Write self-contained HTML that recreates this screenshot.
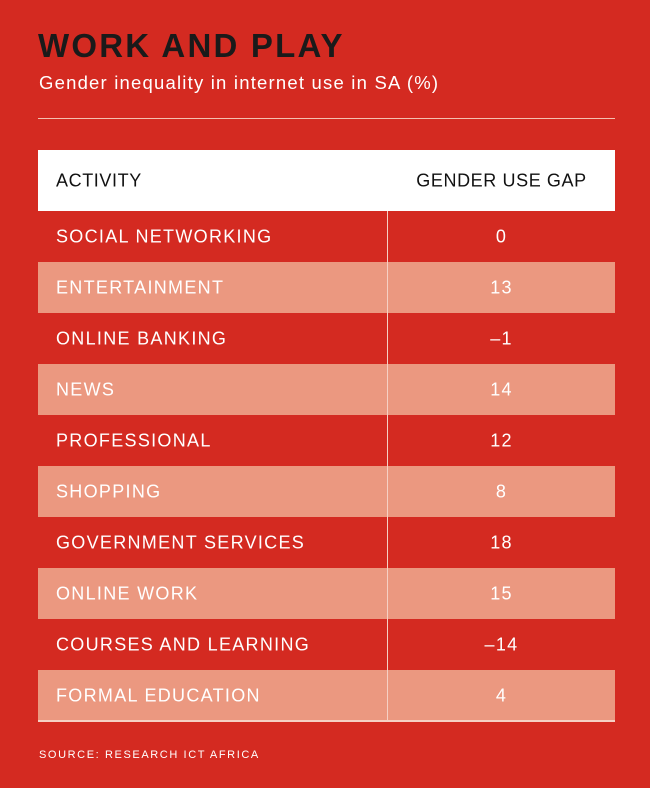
<!DOCTYPE html>
<html><head><style>
body{margin:0;width:650px;height:788px;background:#d42a21;font-family:"Liberation Sans",sans-serif;position:relative;overflow:hidden;color:#fff}
.t{position:absolute;left:38px;top:27px;font-size:33px;font-weight:bold;color:#1a1a1a;letter-spacing:2.2px}
.s{position:absolute;left:39px;top:72px;font-size:18.5px;letter-spacing:1.2px}
.hr{position:absolute;left:38px;top:118px;width:577px;height:1px;background:#f4c0b0}
.hd{position:absolute;left:38px;top:150px;width:577px;height:61px;background:#fff;color:#111;font-size:18px;letter-spacing:0.6px}
.r{position:absolute;left:38px;width:577px;height:51px;font-size:18px;letter-spacing:1.3px}
.p{background:#eb9880}
.a{position:absolute;left:18px;top:50%;transform:translateY(-50%)}
.v{position:absolute;left:350px;width:227px;text-align:center;top:50%;transform:translateY(-50%)}
.vl{position:absolute;left:387px;top:211px;width:1px;height:510px;background:#f6d0c4}
.bl{position:absolute;left:38px;top:720px;width:577px;height:2px;background:#f6d0c4}
.src{position:absolute;left:39px;top:749px;font-size:11px;letter-spacing:1.6px}
</style></head><body>
<div class="t">WORK AND PLAY</div>
<div class="s">Gender inequality in internet use in SA (%)</div>
<div class="hr"></div>
<div class="hd"><span class="a">ACTIVITY</span><span class="v">GENDER USE GAP</span></div>
<div class="r" style="top:211px"><span class="a">SOCIAL NETWORKING</span><span class="v">0</span></div>
<div class="r p" style="top:262px"><span class="a">ENTERTAINMENT</span><span class="v">13</span></div>
<div class="r" style="top:313px"><span class="a">ONLINE BANKING</span><span class="v">–1</span></div>
<div class="r p" style="top:364px"><span class="a">NEWS</span><span class="v">14</span></div>
<div class="r" style="top:415px"><span class="a">PROFESSIONAL</span><span class="v">12</span></div>
<div class="r p" style="top:466px"><span class="a">SHOPPING</span><span class="v">8</span></div>
<div class="r" style="top:517px"><span class="a">GOVERNMENT SERVICES</span><span class="v">18</span></div>
<div class="r p" style="top:568px"><span class="a">ONLINE WORK</span><span class="v">15</span></div>
<div class="r" style="top:619px"><span class="a">COURSES AND LEARNING</span><span class="v">–14</span></div>
<div class="r p" style="top:670px"><span class="a">FORMAL EDUCATION</span><span class="v">4</span></div>
<div class="vl"></div>
<div class="bl"></div>
<div class="src">SOURCE: RESEARCH ICT AFRICA</div>
</body></html>
